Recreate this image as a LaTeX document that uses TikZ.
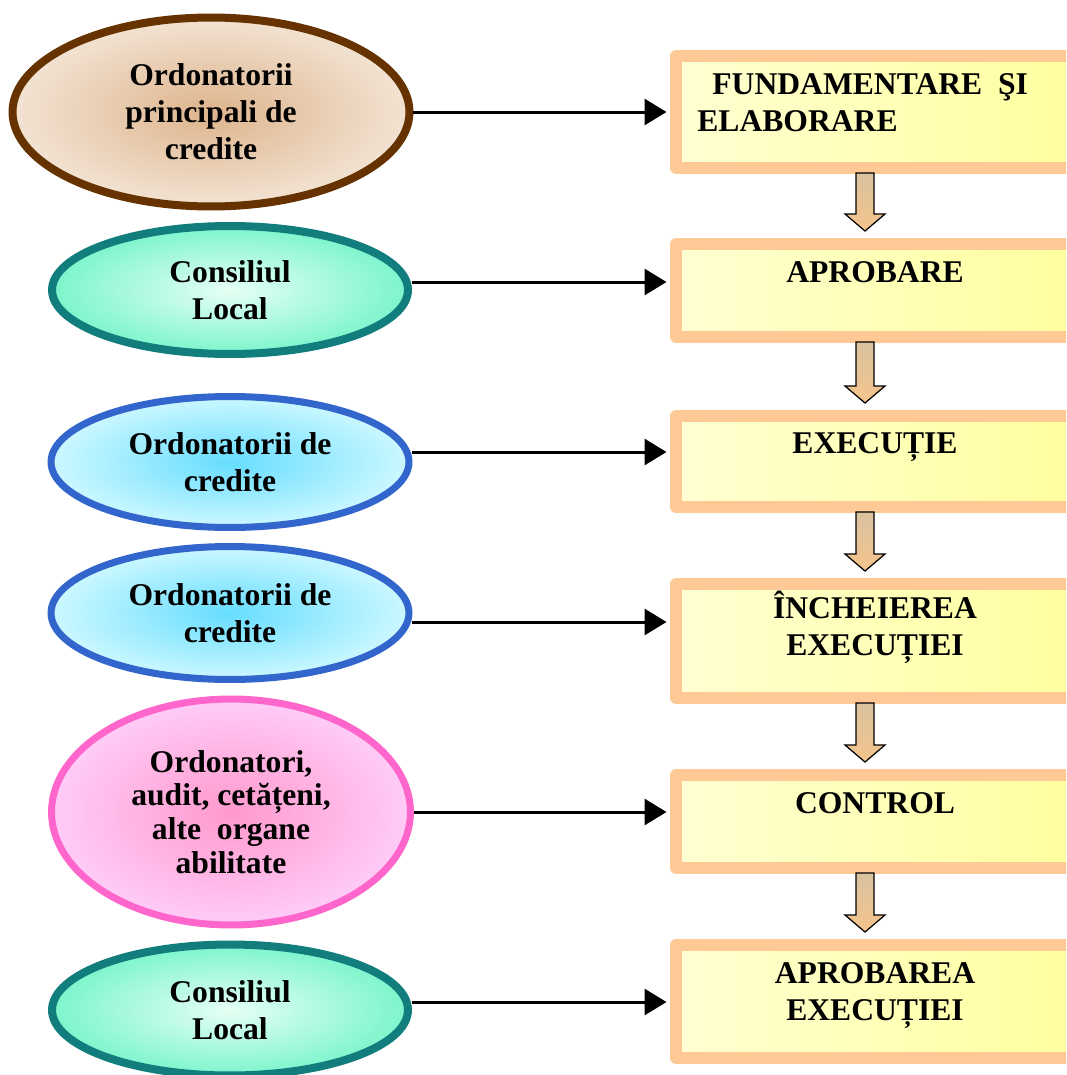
\documentclass[tikz,border=0pt]{standalone}
\usepackage{fontspec}
\setmainfont{Liberation Serif}
\usetikzlibrary{shapes.geometric,arrows.meta,calc}

\definecolor{brownline}{HTML}{663300}
\definecolor{brownin}{HTML}{DDB48C}
\definecolor{brownout}{HTML}{F3E3D3}
\definecolor{tealline}{HTML}{127D7D}
\definecolor{mintin}{HTML}{E6FFF4}
\definecolor{mintout}{HTML}{7CF5CC}
\definecolor{blueline}{HTML}{3366CC}
\definecolor{cyanin}{HTML}{66DDFF}
\definecolor{cyanout}{HTML}{CCF8FF}
\definecolor{pinkline}{HTML}{FF66CC}
\definecolor{pinkin}{HTML}{FF99CC}
\definecolor{pinkout}{HTML}{FFCCF8}
\definecolor{boxline}{HTML}{FFC996}
\definecolor{boxleft}{HTML}{FFFFD2}
\definecolor{boxright}{HTML}{FFFF9C}
\definecolor{arrowtop}{HTML}{D9C29F}
\definecolor{arrowbottom}{HTML}{F5C48C}

\begin{document}
\begin{tikzpicture}[x=0.02cm,y=-0.02cm,
        font=\fontsize{18}{21}\selectfont\bfseries,
        actor/.style={ellipse,inner sep=0pt,align=center},
        stage/.style={rectangle,draw=boxline,line width=0.24cm,line join=round,
            left color=boxleft,right color=boxright,minimum width=8.48cm},
        stage text/.style={inner sep=0pt,align=center},
        step arrow/.style={draw=black,line width=0.7pt,top color=arrowtop,bottom color=arrowbottom},
        link/.style={-{Triangle[length=0.44cm,width=0.52cm]},line width=0.06cm,shorten >=2pt}]

    \useasboundingbox (0,0) rectangle (1066,1075);
    \clip (0,0) rectangle (1066,1075);

    % who acts at each stage
    \node[actor, draw=brownline, line width=0.16cm, inner color=brownin, outer color=brownout,
        minimum width=7.94cm, minimum height=3.78cm] (princ) at (211,112) {Ordonatorii\\principali de\\credite};
    \node[actor, draw=tealline, line width=0.16cm, inner color=mintin, outer color=mintout,
        minimum width=7.12cm, minimum height=2.56cm] (cons1) at (230,290) {Consiliul\\Local};
    \node[actor, draw=blueline, line width=0.14cm, inner color=cyanin, outer color=cyanout,
        minimum width=7.16cm, minimum height=2.62cm] (ord1) at (230,462) {Ordonatorii de\\credite};
    \node[actor, draw=blueline, line width=0.14cm, inner color=cyanin, outer color=cyanout,
        minimum width=7.16cm, minimum height=2.66cm] (ord2) at (230,613) {Ordonatorii de\\credite};
    \node[actor, draw=pinkline, line width=0.14cm, inner color=pinkin, outer color=pinkout,
        minimum width=7.18cm, minimum height=4.52cm, font=\fontsize{18}{19.2}\selectfont\bfseries]
        (audit) at (231,812) {Ordonatori,\\audit, cetățeni,\\alte\ \ organe\\abilitate};
    \node[actor, draw=tealline, line width=0.16cm, inner color=mintin, outer color=mintout,
        minimum width=7.12cm, minimum height=2.62cm] (cons2) at (230,1010) {Consiliul\\Local};

    % stages of the budget
    \node[stage, minimum height=2.24cm] (fund) at (888,112) {};
    \node[stage, minimum height=1.86cm] (aprob) at (888,290.5) {};
    \node[stage, minimum height=1.82cm] (exec) at (888,461.5) {};
    \node[stage, minimum height=2.28cm] (inch) at (888,641) {};
    \node[stage, minimum height=1.86cm] (contr) at (888,821.5) {};
    \node[stage, minimum height=2.26cm] (aprobexec) at (888,1001.5) {};

    \node[stage text, anchor=base west, align=left] at (697,131) {\hspace*{0.3cm}FUNDAMENTARE\ \ ŞI\\ELABORARE};
    \node[stage text, anchor=base] at (875,282) {APROBARE};
    \node[stage text, anchor=base] at (875,453) {EXECUȚIE};
    \node[stage text, anchor=base] at (875,655) {ÎNCHEIEREA\\EXECUȚIEI};
    \node[stage text, anchor=base] at (875,813) {CONTROL};
    \node[stage text, anchor=base] at (875,1020) {APROBAREA\\EXECUȚIEI};

    % block arrows between stages
    \foreach \a/\b in {fund/aprob, aprob/exec, exec/inch, inch/contr, contr/aprobexec}
        \draw[step arrow] ($(\a.south)+(-32,-1)$) -- ($(\a.south)+(-14,-1)$) -- ($(\b.north)+(-14,-24)$)
            -- ($(\b.north)+(-3,-24)$) -- ($(\b.north)+(-23,-7)$) -- ($(\b.north)+(-43,-24)$)
            -- ($(\b.north)+(-32,-24)$) -- cycle;

    % actor -> stage
    \foreach \a/\b/\s in {princ/fund/0, cons1/aprob/8, ord1/exec/10, ord2/inch/-9, audit/contr/0, cons2/aprobexec/8} {
        \path ([yshift=\s*0.02cm]\a.east) coordinate (start);
        \draw[link] (start) -- (start -| \b.west);
    }

\end{tikzpicture}
\end{document}
